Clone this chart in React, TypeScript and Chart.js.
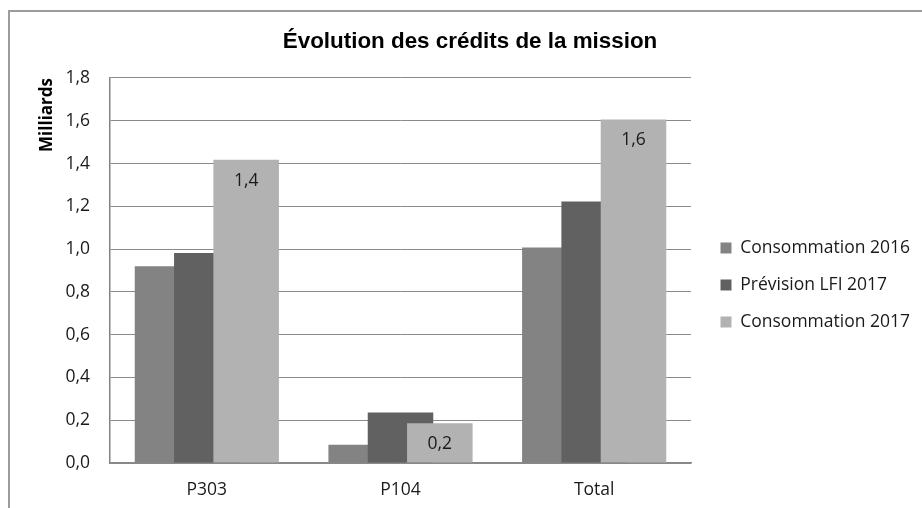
import { useEffect, useRef } from 'react';
import { Chart, registerables } from 'chart.js';

Chart.register(...registerables);

const categories = ['P303', 'P104', 'Total'];
const seriesNames = ['Consommation 2016', 'Prévision LFI 2017', 'Consommation 2017'];
const conso2016 = [0.92, 0.085, 1.007];
const lfi2017 = [0.982, 0.236, 1.223];
const conso2017 = [1.418, 0.186, 1.606];
const yMin = 0;
const yMax = 1.8;
const yStep = 0.2;
const labeledSeries = 2;
const colors = ['#838383', '#616161', '#b2b2b2'];

const chartTitle = 'Évolution des crédits de la mission';
const yTitle = 'Milliards';

const fmt = (v: number) => Number(v).toFixed(1).replace('.', ',');

const TEXT_FONT = 'Open Sans';

const framePlugin = {
  id: 'frame',
  beforeDraw(chart: any) {
    const ctx = chart.ctx;
    ctx.save();
    ctx.fillStyle = '#ffffff';
    ctx.fillRect(0, 0, chart.width, chart.height);
    ctx.fillStyle = '#9c9c9c';
    ctx.fillRect(8, 10, 2, chart.height - 10);
    ctx.fillRect(8, 10, chart.width - 8, 2);
    ctx.restore();
  },
};

const forwardOrderPlugin = {
  id: 'forwardOrder',
  beforeDatasetsDraw(chart: any) {
    const ctx = chart.ctx;
    const metas = chart.getSortedVisibleDatasetMetas();
    metas.forEach((m: any) => m.controller.draw());
    const meta = chart.getDatasetMeta(labeledSeries);
    const values = chart.data.datasets[labeledSeries].data;
    ctx.save();
    ctx.font = `17.5px "${TEXT_FONT}"`;
    ctx.fillStyle = '#1a1a1a';
    ctx.textAlign = 'center';
    ctx.textBaseline = 'middle';
    meta.data.forEach((el: any, i: number) => {
      ctx.fillText(fmt(values[i]), el.x, el.y + 21);
    });
    ctx.restore();
    return false;
  },
};

export default function App() {
  const ref = useRef<HTMLCanvasElement | null>(null);

  useEffect(() => {
    if (!ref.current) return;
    const series = [conso2016, lfi2017, conso2017];
    const chart = new Chart(ref.current, {
      type: 'bar',
      data: {
        labels: categories,
        datasets: series.map((d, i) => ({
          label: seriesNames[i],
          data: d,
          backgroundColor: colors[i],
          borderWidth: 0,
          categoryPercentage: 0.609,
          barPercentage: 1.667,
        })),
      },
      options: {
        responsive: false,
        animation: false,
        devicePixelRatio: 1,
        layout: { padding: { left: 28, right: 10, top: 0, bottom: 0 } },
        plugins: {
          title: {
            display: true,
            text: chartTitle,
            color: '#000000',
            font: { family: 'Liberation Sans', weight: 'bold', size: 22.4 },
            padding: { top: 28.5, bottom: 22.6 },
          },
          legend: {
            position: 'right',
            align: 'center',
            fullSize: false,
            maxWidth: 211,
            title: {
              display: true,
              text: ' ',
              font: { size: 10, lineHeight: 1 },
              padding: { top: 19, bottom: 0 },
            },
            labels: {
              boxWidth: 11,
              boxHeight: 11,
              padding: 19.5,
              color: '#1a1a1a',
              font: { family: TEXT_FONT, size: 17.5 },
            },
          },
          tooltip: { enabled: false },
        },
        scales: {
          x: {
            type: 'category',
            offset: true,
            grid: { display: false, drawTicks: false },
            border: { display: true, color: '#878787', width: 1.5 },
            ticks: {
              padding: 17,
              color: '#1a1a1a',
              font: { family: TEXT_FONT, size: 17.5 },
            },
            afterFit: (s: any) => {
              s.height = 45;
            },
          },
          y: {
            min: yMin,
            max: yMax,
            grid: { color: '#8a8a8a', drawTicks: false, lineWidth: 1 },
            border: { display: true, color: '#838383', width: 1.5 },
            ticks: {
              stepSize: yStep,
              padding: 20,
              color: '#1a1a1a',
              font: { family: TEXT_FONT, size: 17.5 },
              callback: (v: any) => fmt(v),
            },
            title: {
              display: true,
              text: yTitle,
              align: 'end',
              color: '#000000',
              font: { family: TEXT_FONT, size: 17, weight: 'bold' },
              padding: { top: 9, bottom: 0 },
            },
            afterFit: (s: any) => {
              s.width = 82;
            },
          },
          spacer: {
            type: 'linear',
            position: 'right',
            display: true,
            grid: { display: false, drawTicks: false },
            border: { display: false },
            ticks: { display: false },
            afterFit: (s: any) => {
              s.width = 10;
            },
          },
        },
      } as any,
      plugins: [framePlugin, forwardOrderPlugin],
    });
    return () => chart.destroy();
  }, []);

  return (
    <div style={{ position: 'absolute', left: 0, top: 0, width: 922, height: 508 }}>
      <canvas ref={ref} width={922} height={508} style={{ display: 'block' }} />
    </div>
  );
}
